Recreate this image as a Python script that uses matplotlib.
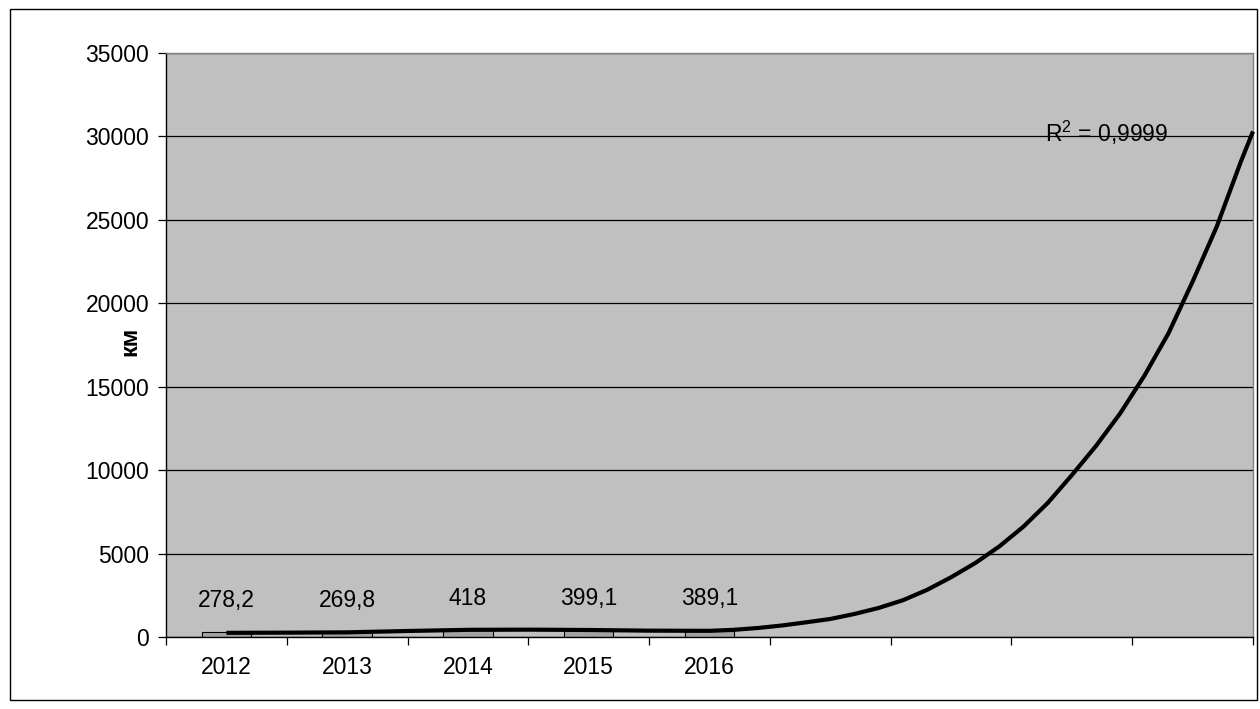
import matplotlib
matplotlib.use("Agg")
import matplotlib.pyplot as plt
from matplotlib.patches import Rectangle

plt.rcParams['font.family'] = ['Liberation Sans', 'DejaVu Sans']
plt.rcParams['mathtext.fontset'] = 'custom'
plt.rcParams['mathtext.rm'] = 'Liberation Sans'
plt.rcParams['mathtext.default'] = 'regular'

# Annual values, km
years = ['2012', '2013', '2014', '2015', '2016']
values = [278.2, 269.8, 418, 399.1, 389.1]
value_labels = ['278,2', '269,8', '418', '399,1', '389,1']

# Category slots on the x axis (the last four are forecast periods)
n_slots = 9
slot_labels = years + ['', '', '', '']

# Trend curve (category position, km)
trend_x = [0, 0.5, 1.0, 1.5, 2.0, 2.5, 3.0, 3.5, 4.0, 4.2, 4.4, 4.6, 4.8,
           5.0, 5.2, 5.4, 5.6, 5.8, 6.0, 6.2, 6.4, 6.6, 6.8, 7.0, 7.2, 7.4,
           7.6, 7.8, 8.0, 8.2, 8.4, 8.5]
trend_y = [250, 260, 280, 360, 430, 440, 420, 380, 370, 430, 540, 690, 880,
           1080, 1380, 1740, 2200, 2820, 3580, 4430, 5430, 6620, 8030, 9700,
           11450, 13400, 15650, 18200, 21300, 24600, 28500, 30300]
r2_text = r'R$^{2}$ = 0,9999'

y_ticks = [0, 5000, 10000, 15000, 20000, 25000, 30000, 35000]

fig = plt.figure(figsize=(12.6, 7.09), dpi=100)
fig.patch.set_facecolor('white')
fig.patches.append(Rectangle((10 / 1260, 9 / 709), 1247 / 1260, 691 / 709,
                             transform=fig.transFigure, fill=False,
                             edgecolor='black', linewidth=1.0, zorder=0))

ax = fig.add_axes([166 / 1260, (709 - 637) / 709, 1087 / 1260, 584 / 709])
ax.set_facecolor('#c0c0c0')

ax.set_ylim(0, 35000)
ax.set_xlim(-0.5, n_slots - 0.5)
ax.set_yticks(y_ticks)
ax.set_yticklabels([str(t) for t in y_ticks])
ax.yaxis.grid(True, color='black', linewidth=0.9)
ax.set_axisbelow(True)

x_pos = list(range(len(years)))
ax.bar(x_pos, values, width=0.41, color='#a3a3a3', edgecolor='black',
       linewidth=0.8, zorder=2)

for xp, v, lab in zip(x_pos, values, value_labels):
    ax.annotate(lab, (xp, v), xytext=(0, 23), textcoords='offset points',
                ha='center', va='center', fontsize=16.5, color='black')

ax.plot(trend_x, trend_y, color='black', linewidth=3.0, zorder=3,
        solid_capstyle='butt', solid_joinstyle='round', clip_on=False)

ax.text(6.78, 29700, r2_text, fontsize=16.5, ha='left', va='baseline',
        color='black')

# Category boundaries carry the tick marks; labels sit at slot centres
ax.set_xticks([i - 0.5 for i in range(n_slots + 1)])
ax.set_xticklabels([])
ax.set_xticks(list(range(n_slots)), minor=True)
ax.set_xticklabels(slot_labels, minor=True)
ax.tick_params(axis='x', which='major', direction='out', length=6,
               width=0.9, color='black')
ax.tick_params(axis='x', which='minor', length=0, pad=14, labelsize=16.5)
ax.tick_params(axis='y', direction='out', length=6, width=0.9, pad=6,
               labelsize=16.5)

for side in ('top', 'right'):
    ax.spines[side].set_color('#808080')
    ax.spines[side].set_linewidth(1.0)
for side in ('left', 'bottom'):
    ax.spines[side].set_color('black')
    ax.spines[side].set_linewidth(1.0)

fig.text(130 / 1260, 1 - 341 / 709, 'км', rotation=90, fontsize=17,
         fontweight='bold', ha='center', va='center')

fig.savefig('out.png', dpi=100, facecolor='white')
